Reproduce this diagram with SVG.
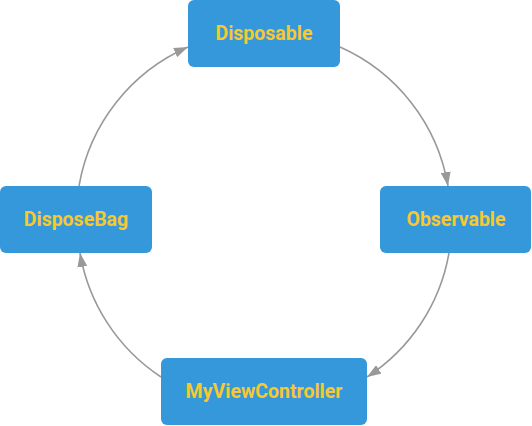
<svg xmlns="http://www.w3.org/2000/svg" width="532" height="426" viewBox="0 0 532 426">
<style>
.node rect{fill:#3498DB;}
.node text{font-family:Roboto,"Liberation Sans",sans-serif;font-weight:bold;font-size:19.5px;fill:#F7C830;text-anchor:middle;dominant-baseline:central;}
.edge{fill:none;stroke:#999999;stroke-width:1.6;marker-end:url(#arr);}
</style>
<defs>
<marker id="arr" viewBox="0 0 14 10" refX="14" refY="5" markerWidth="14" markerHeight="10" markerUnits="userSpaceOnUse" orient="auto"><path d="M0,0 L14,5 L0,10 z" fill="#999999"/></marker>
</defs>
<rect width="532" height="426" fill="#ffffff"/>
<g id="connectors">
<path class="edge" d="M340,47 A186,186 0 0 1 448,186"/>
<path class="edge" d="M449,253 A186,186 0 0 1 367,377"/>
<path class="edge" d="M161,377 A186,186 0 0 1 80,253"/>
<path class="edge" d="M79,186 A186,186 0 0 1 188,47"/>
</g>
<g id="disposable" class="node"><rect x="188" y="0" width="152" height="67" rx="6"/><text x="264" y="33">Disposable</text></g>
<g id="observable" class="node"><rect x="380" y="186" width="151" height="67" rx="6"/><text x="456" y="219">Observable</text></g>
<g id="myviewcontroller" class="node"><rect x="161" y="358" width="206" height="67" rx="6"/><text x="264" y="391">MyViewController</text></g>
<g id="disposebag" class="node"><rect x="0" y="186" width="152" height="67" rx="6"/><text x="76" y="219">DisposeBag</text></g>
</svg>
